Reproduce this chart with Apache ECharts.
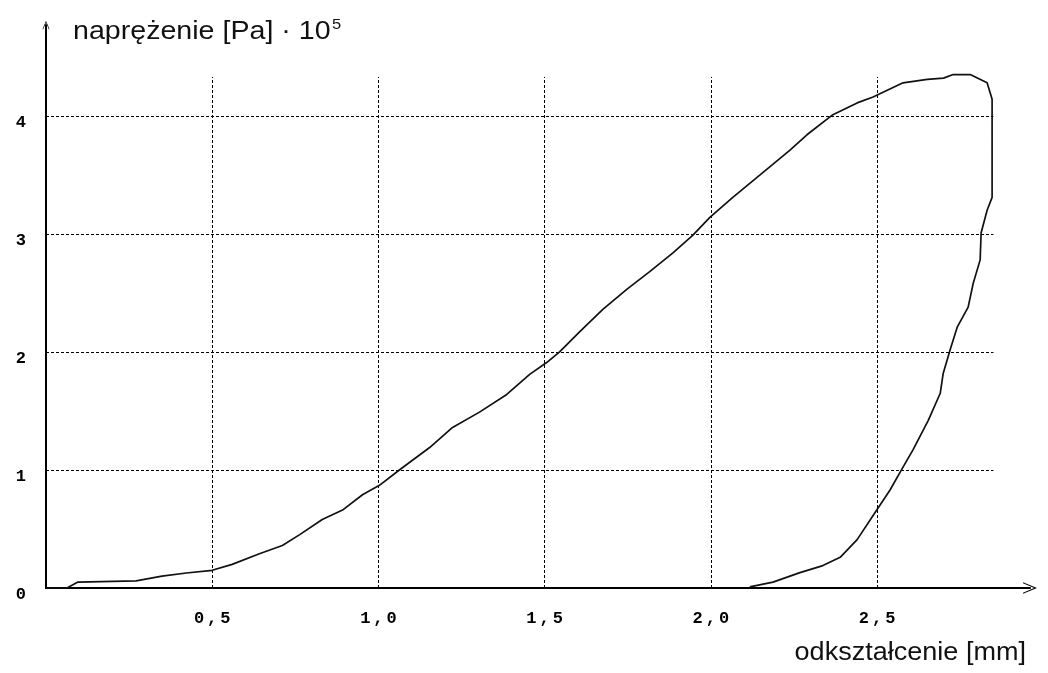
<!DOCTYPE html>
<html>
<head>
<meta charset="utf-8">
<script src="https://cdn.jsdelivr.net/npm/echarts@6/dist/echarts.min.js"></script>
<style>
  html, body { margin: 0; padding: 0; background: #fff; }
  #chart { width: 1048px; height: 673px; }
</style>
</head>
<body>
<div id="chart"></div>
<script>
// Deformation [mm] vs. stress [Pa·10^5]: loading branch followed by unloading branch
const strainMm = [
  0, 0.063, 0.096, 0.271, 0.349, 0.422, 0.5, 0.56, 0.642, 0.711, 0.762, 0.831, 0.892, 0.952,
  1.003, 1.063, 1.154, 1.223, 1.304, 1.386, 1.455, 1.506, 1.545, 1.605, 1.675, 1.747, 1.816,
  1.886, 1.946, 1.997, 2.066, 2.148, 2.238, 2.289, 2.367, 2.44, 2.488, 2.578, 2.651, 2.70,
  2.729, 2.78, 2.831, 2.846, 2.846, 2.831, 2.813, 2.81, 2.789, 2.774, 2.741, 2.72, 2.699,
  2.69, 2.654, 2.608, 2.569, 2.539, 2.494, 2.44, 2.389, 2.337, 2.268, 2.187, 2.117
];
const stressPa = [
  0, 0, 0.05, 0.06, 0.10, 0.127, 0.15, 0.20, 0.29, 0.36, 0.45, 0.58, 0.66, 0.79,
  0.87, 1.0, 1.19, 1.36, 1.49, 1.64, 1.81, 1.91, 2.0, 2.17, 2.36, 2.53, 2.68,
  2.84, 2.99, 3.14, 3.31, 3.50, 3.71, 3.84, 4.01, 4.11, 4.16, 4.28, 4.31, 4.32,
  4.35, 4.35, 4.28, 4.14, 3.31, 3.20, 3.01, 2.78, 2.58, 2.38, 2.21, 2.02, 1.82,
  1.65, 1.42, 1.17, 0.98, 0.83, 0.64, 0.41, 0.26, 0.19, 0.13, 0.05, 0.01
];

// Grid positions and tick values
const xTicks = [0.5, 1.0, 1.5, 2.0, 2.5];
const yTicks = [1, 2, 3, 4];
const xGridEnd = 2.85;
const yGridEnd = 4.33;

// Axis titles
const yTitle = 'naprężenie [Pa] · 10';
const yTitleExp = '5';
const xTitle = 'odkształcenie [mm]';

const curve = strainMm.map((x, i) => [x, stressPa[i]]);

const gridLines = [];
yTicks.forEach(v => gridLines.push([{ coord: [0, v] }, { coord: [xGridEnd, v] }]));
xTicks.forEach(v => gridLines.push([{ coord: [v, 0] }, { coord: [v, yGridEnd] }]));

// open chevron arrowhead for the axis ends
const chevron = 'path://M0,12 L5,0 L10,12 L9,12 L5,2.5 L1,12 Z';

const monoBold = '"Liberation Mono", "DejaVu Sans Mono", monospace';
const sans = '"Liberation Sans", Arial, sans-serif';

const chart = echarts.init(document.getElementById('chart'), null, { renderer: 'canvas' });
chart.setOption({
  backgroundColor: '#fff',
  animation: false,
  graphic: [
    {
      type: 'text', x: 73, y: 17, scaleX: 1.1, silent: true,
      style: {
        text: yTitle + ' {sup|' + yTitleExp + '}',
        font: '26px ' + sans, fill: '#111',
        rich: { sup: { fontSize: 15, fontFamily: sans, verticalAlign: 'top', padding: [0, 0, 14, -6], fill: '#111' } }
      }
    },
    {
      type: 'text', x: 1026, y: 640, scaleX: 1.04, silent: true,
      style: { text: xTitle, font: '26px ' + sans, fill: '#111', align: 'right' }
    }
  ],
  grid: { left: 46, right: 18, top: 25, bottom: 85, containLabel: false },
  xAxis: {
    type: 'value', min: 0, max: 2.96, interval: 0.5,
    axisLine: { show: true, lineStyle: { color: '#000', width: 2 },
      symbol: ['none', chevron], symbolSize: [12, 14] },
    axisTick: { show: false },
    splitLine: { show: false },
    axisLabel: {
      margin: 22, showMaxLabel: false,
      formatter: v => {
        if (v === 0) return '';
        const p = v.toFixed(1).split('.');
        return '{d|' + p[0] + '}{c|,}{d|' + p[1] + '}';
      },
      rich: {
        d: { fontFamily: monoBold, fontWeight: 'bold', fontSize: 17, color: '#000' },
        c: { fontFamily: monoBold, fontWeight: 'bold', fontSize: 17, color: '#000', padding: [0, 3, 0, 3] }
      }
    }
  },
  yAxis: {
    type: 'value', min: 0, max: 4.77, interval: 1,
    axisLine: { show: true, lineStyle: { color: '#000', width: 2 },
      symbol: ['none', chevron], symbolSize: [7, 12] },
    axisTick: { show: false },
    splitLine: { show: false },
    axisLabel: {
      fontFamily: monoBold, fontWeight: 'bold', fontSize: 17, color: '#000',
      margin: 20, showMaxLabel: false, verticalAlign: 'top', padding: [-2, 0, 0, 0],
      formatter: v => String(v)
    }
  },
  series: [
    {
      type: 'line',
      data: [],
      silent: true,
      markLine: {
        silent: true, symbol: ['none', 'none'], label: { show: false },
        lineStyle: { color: '#000', width: 1, type: [3, 2] },
        data: gridLines
      }
    },
    {
      type: 'line',
      data: curve,
      showSymbol: false,
      smooth: false,
      lineStyle: { color: '#111', width: 1.7 },
      z: 5
    }
  ]
});
</script>
</body>
</html>
